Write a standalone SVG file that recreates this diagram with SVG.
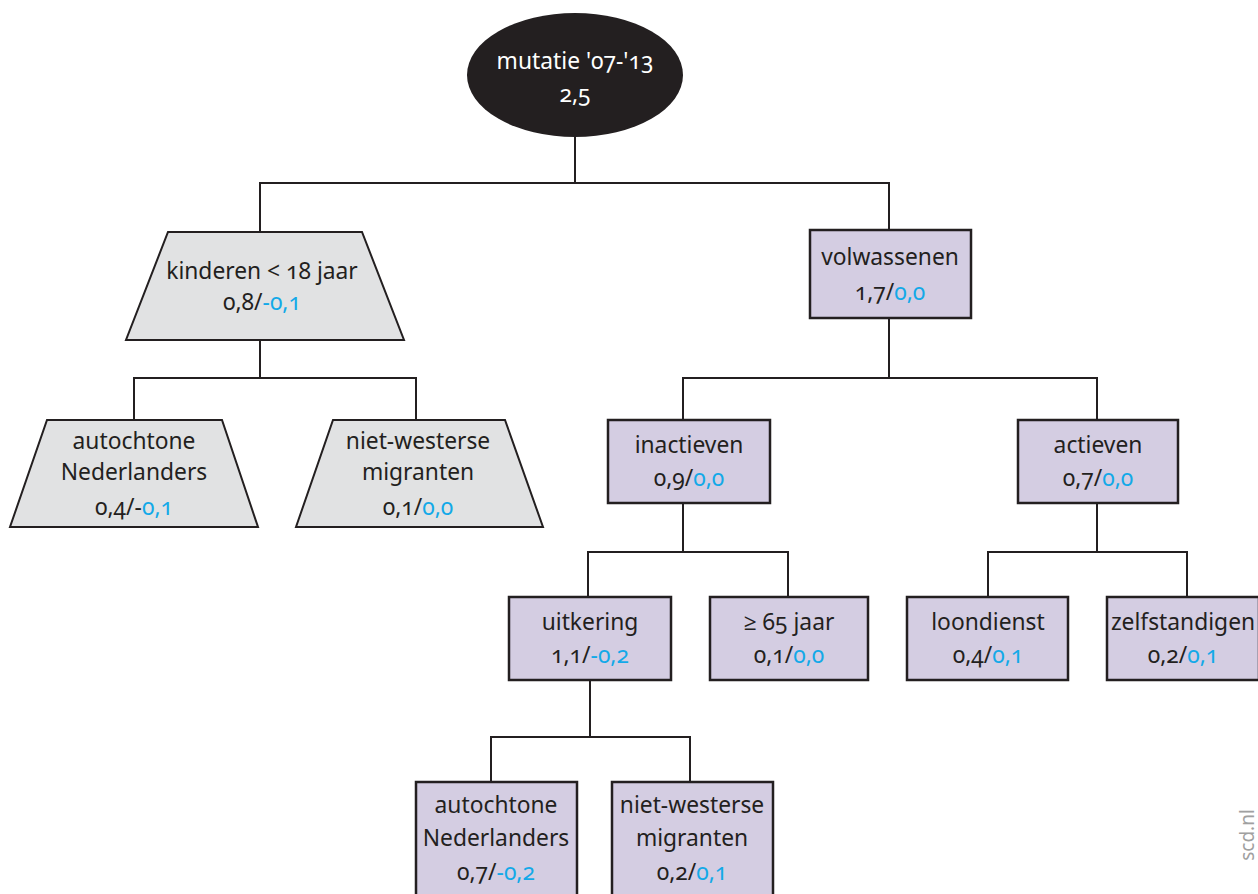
<svg xmlns="http://www.w3.org/2000/svg" width="1258" height="894" viewBox="0 0 1258 894">
<style>
text{font-family:"Noto Sans","Open Sans","Liberation Sans",sans-serif;font-size:22.8px;fill:#231f20;text-anchor:middle;font-variant-numeric:oldstyle-nums}
.b{fill:#13a9e8}
.w{fill:#ffffff}
.box{fill:#d4cde2;stroke:#231f20;stroke-width:2.5}
.trap{fill:#e1e2e3;stroke:#231f20;stroke-width:2}
.con{fill:none;stroke:#231f20;stroke-width:2}
.wm{font-size:19px;fill:#a0a0a0}
</style>
<rect width="1258" height="894" fill="#ffffff"/>
<g id="connectors" class="con">
<path d="M575,137V183M260,232V183H889V230"/>
<path d="M260,340V378M134,420V378H416V420"/>
<path d="M889,318V378M683,420V378H1097V420"/>
<path d="M683,503V552M588,597V552H788V597"/>
<path d="M1097,503V552M988,597V552H1187V597"/>
<path d="M590,680V737M491,782V737H690V782"/>
</g>
<g id="root">
<ellipse cx="575" cy="75" rx="108" ry="62" fill="#231f20"/>
<text x="575" y="69" class="w">mutatie '07-'13</text>
<text x="575" y="102" class="w">2,5</text>
</g>
<g id="kinderen">
<polygon class="trap" points="168,232 362,232 404,340 126,340"/>
<text x="262" y="279">kinderen &lt; 18 jaar</text>
<text x="262" y="310">0,8/<tspan class="b">-0,1</tspan></text>
</g>
<g id="kind-autochtoon">
<polygon class="trap" points="47,420 222,420 258,527 10,527"/>
<text x="134" y="449">autochtone</text>
<text x="134" y="480">Nederlanders</text>
<text x="134" y="515">0,4/-<tspan class="b">0,1</tspan></text>
</g>
<g id="kind-nietwesters">
<polygon class="trap" points="333,420 505,420 543,527 296,527"/>
<text x="418" y="449">niet-westerse</text>
<text x="418" y="480">migranten</text>
<text x="418" y="515">0,1/<tspan class="b">0,0</tspan></text>
</g>
<g id="volwassenen">
<rect class="box" x="810" y="230" width="161" height="88"/>
<text x="890" y="265">volwassenen</text>
<text x="890" y="300">1,7/<tspan class="b">0,0</tspan></text>
</g>
<g id="inactieven">
<rect class="box" x="608" y="420" width="162" height="83"/>
<text x="689" y="453">inactieven</text>
<text x="689" y="486">0,9/<tspan class="b">0,0</tspan></text>
</g>
<g id="actieven">
<rect class="box" x="1018" y="420" width="160" height="83"/>
<text x="1098" y="453">actieven</text>
<text x="1098" y="486">0,7/<tspan class="b">0,0</tspan></text>
</g>
<g id="uitkering">
<rect class="box" x="509" y="597" width="162" height="83"/>
<text x="590" y="630">uitkering</text>
<text x="590" y="663">1,1/<tspan class="b">-0,2</tspan></text>
</g>
<g id="ouderen">
<rect class="box" x="710" y="597" width="158" height="83"/>
<text x="789" y="630">≥ 65 jaar</text>
<text x="789" y="663">0,1/<tspan class="b">0,0</tspan></text>
</g>
<g id="loondienst">
<rect class="box" x="907" y="597" width="161" height="83"/>
<text x="988" y="630">loondienst</text>
<text x="988" y="663">0,4/<tspan class="b">0,1</tspan></text>
</g>
<g id="zelfstandigen">
<rect class="box" x="1107" y="597" width="152" height="83"/>
<text x="1183" y="630">zelfstandigen</text>
<text x="1183" y="663">0,2/<tspan class="b">0,1</tspan></text>
</g>
<g id="uitk-autochtoon">
<rect class="box" x="416" y="782" width="161" height="120"/>
<text x="496" y="813">autochtone</text>
<text x="496" y="846">Nederlanders</text>
<text x="496" y="880">0,7/<tspan class="b">-0,2</tspan></text>
</g>
<g id="uitk-nietwesters">
<rect class="box" x="612" y="782" width="161" height="120"/>
<text x="692" y="813">niet-westerse</text>
<text x="692" y="846">migranten</text>
<text x="692" y="880">0,2/<tspan class="b">0,1</tspan></text>
</g>
<text class="wm" transform="translate(1254,835) rotate(-90)">scd.nl</text>
</svg>
